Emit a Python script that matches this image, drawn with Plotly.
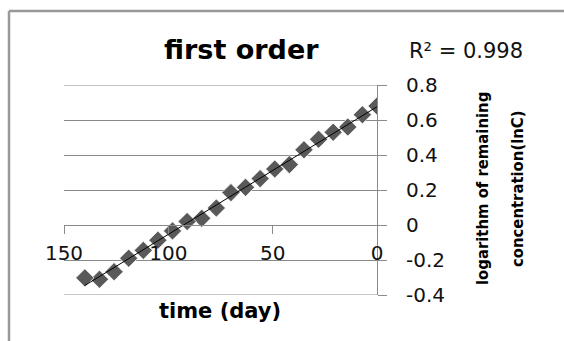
import numpy as np
import plotly.graph_objects as go

# ---- data ----
days = [0, 7, 14, 21, 28, 35, 42, 49, 56, 63, 70, 77, 84, 91, 98, 105, 112, 119, 126, 133, 140]
ln_c = [0.68, 0.63, 0.56, 0.53, 0.49, 0.43, 0.345, 0.32, 0.265, 0.215, 0.185, 0.097,
        0.038, 0.02, -0.034, -0.087, -0.145, -0.19, -0.267, -0.31, -0.302]
x_ticks = [150, 100, 50, 0]
x_tick_labels = ["150", "100", "50", "0"]
y_ticks = [0.8, 0.6, 0.4, 0.2, 0, -0.2, -0.4]
y_tick_labels = ["0.8", "0.6", "0.4", "0.2", "0", "-0.2", "-0.4"]
title_text = "first order"
r2_text = "R\u00b2 = 0.998"
x_title = "time (day)"
y_title_lines = ["logarithm of remaining", "concentration(lnC)"]

# linear trendline from the data
slope, intercept = np.polyfit(days, ln_c, 1)
fit_x = [min(days), max(days)]
fit_y = [slope * v + intercept for v in fit_x]

W, H = 564, 341
ML, MR, MT, MB = 64, 187, 85, 46
PW, PH = W - ML - MR, H - MT - MB


def px(xp):
    return (xp - ML) / PW


def py(yp):
    return (H - MB - yp) / PH


fig = go.Figure()
fig.add_trace(go.Scatter(
    x=days, y=ln_c, mode="markers",
    marker=dict(symbol="diamond", size=14, color="#595959",
                line=dict(color="white", width=0.7)),
    showlegend=False, hoverinfo="skip"))
fig.add_trace(go.Scatter(
    x=fit_x, y=fit_y, mode="lines",
    line=dict(color="black", width=1),
    showlegend=False, hoverinfo="skip"))

grid = "#8a8a8a"
tick_font = dict(family="DejaVu Sans", size=20, color="#111")
y_min, y_max = min(y_ticks), max(y_ticks)

fig.update_layout(
    width=W, height=H, autosize=False,
    margin=dict(l=ML, r=MR, t=MT, b=MB, pad=0),
    paper_bgcolor="white", plot_bgcolor="white",
    xaxis=dict(range=[max(x_ticks), min(x_ticks)], tickvals=x_ticks,
               ticktext=x_tick_labels,
               showgrid=False, zeroline=False, showline=True, linecolor=grid,
               linewidth=1, ticks="outside", ticklen=8, tickcolor=grid,
               anchor="free", position=(0 - y_min) / (y_max - y_min),
               tickfont=tick_font, ticklabelstandoff=2),
    yaxis=dict(range=[y_min, y_max], side="right", tickvals=y_ticks,
               ticktext=y_tick_labels, showgrid=True, gridcolor=grid,
               gridwidth=1, zeroline=False, showline=True, linecolor=grid,
               linewidth=1, ticks="outside", ticklen=9, tickcolor=grid,
               tickfont=tick_font, ticklabelstandoff=15),
)

# gridlines at the two range ends (plotly drops them at the edges)
for yv in (y_min, y_max):
    fig.add_shape(type="line", xref="paper", yref="y", x0=0, x1=1, y0=yv, y1=yv,
                  line=dict(color=grid, width=1), layer="below")

ytitle_font = dict(family="DejaVu Sans Condensed, DejaVu Sans, sans-serif",
                   size=16.5, color="black")
ann = [
    dict(text="<b>%s</b>" % title_text, x=px(242), y=py(50),
         font=dict(family="DejaVu Sans", size=27, color="black")),
    dict(text=r2_text, x=px(407), y=py(51), xanchor="left",
         font=dict(family="DejaVu Sans", size=21, color="#111")),
    dict(text="<b>%s</b>" % x_title, x=px(220), y=py(311),
         font=dict(family="DejaVu Sans", size=21, color="black")),
    dict(text="<b>%s</b>" % y_title_lines[0], x=px(482), y=py(189), textangle=-90,
         font=ytitle_font),
    dict(text="<b>%s</b>" % y_title_lines[1], x=px(517), y=py(189), textangle=-90,
         font=ytitle_font),
]
for a in ann:
    a.setdefault("xanchor", "center")
    fig.add_annotation(xref="paper", yref="paper", showarrow=False,
                       yanchor="middle", **a)

frame = "#999999"
fig.add_shape(type="line", xref="paper", yref="paper",
              x0=px(9), x1=px(W + 5), y0=py(11), y1=py(11),
              line=dict(color=frame, width=2.5))
fig.add_shape(type="line", xref="paper", yref="paper",
              x0=px(9), x1=px(9), y0=py(11), y1=py(H + 5),
              line=dict(color=frame, width=2.5))

fig.write_html("out.html", config={"displayModeBar": False},
               post_script="document.body.style.margin='0';")
